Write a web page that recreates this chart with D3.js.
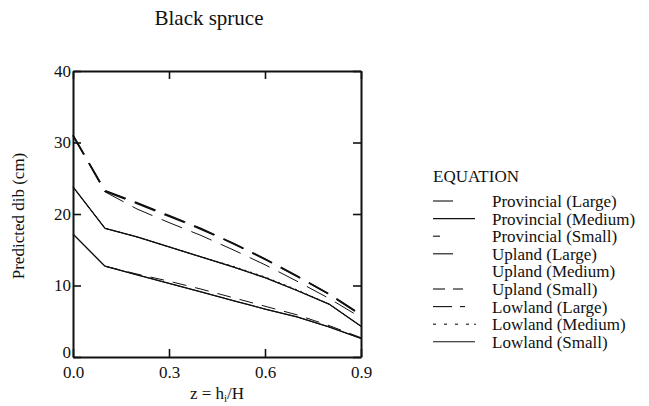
<!DOCTYPE html>
<html>
<head>
<meta charset="utf-8">
<script src="https://cdn.jsdelivr.net/npm/d3@7/dist/d3.min.js"></script>
<style>
  html, body { margin: 0; padding: 0; background: #fff; }
  svg { display: block; }
  text { font-family: "Liberation Serif", "Times New Roman", serif; fill: #111; }
</style>
</head>
<body>
<svg id="chart" width="649" height="406"></svg>
<script>
// Relative height z = h_i / H
const zLevels = [0, 0.1, 0.2, 0.3, 0.4, 0.5, 0.6, 0.7, 0.8, 0.9];

// Predicted diameter inside bark (cm) by equation and tree size
const provincialLarge  = [31.0, 23.2, 21.5, 19.7, 17.9, 15.9, 13.7, 11.3, 8.8, 5.9];
const provincialMedium = [23.8, 18.0, 16.8, 15.4, 14.0, 12.6, 11.1, 9.3, 7.4, 4.3];
const provincialSmall  = [17.2, 12.7, 11.5, 10.3, 9.1, 7.9, 6.7, 5.6, 4.2, 2.6];
const uplandLarge      = [31.0, 23.1, 20.7, 18.8, 17.0, 15.0, 12.9, 10.6, 8.2, 5.5];
const uplandMedium     = [23.8, 18.0, 16.8, 15.4, 14.0, 12.6, 11.1, 9.3, 7.4, 4.3];
const uplandSmall      = [17.2, 12.7, 11.5, 10.3, 9.1, 7.9, 6.7, 5.6, 4.2, 2.6];
const lowlandLarge     = [31.0, 23.3, 21.6, 19.8, 18.0, 15.9, 13.7, 11.3, 8.8, 5.9];
const lowlandMedium    = [23.8, 18.0, 16.8, 15.4, 14.0, 12.7, 11.2, 9.4, 7.4, 4.3];
const lowlandSmall     = [17.2, 12.7, 11.6, 10.6, 9.5, 8.3, 7.1, 5.9, 4.4, 2.7];

const seriesNames = [
  "Provincial (Large)", "Provincial (Medium)", "Provincial (Small)",
  "Upland (Large)", "Upland (Medium)", "Upland (Small)",
  "Lowland (Large)", "Lowland (Medium)", "Lowland (Small)"
];

const xTickValues = [0.0, 0.3, 0.6, 0.9];
const yTickValues = [0, 10, 20, 30, 40];

// Line appearance in the plot area, keyed by series
const plotStyle = {
  "Provincial (Large)":  { width: 1.9, dash: "22,10" },
  "Provincial (Medium)": { width: 1.3, dash: null },
  "Provincial (Small)":  { width: 1.3, dash: null },
  "Upland (Large)":      { width: 1.0, dash: "22,10" },
  "Upland (Medium)":     { width: 1.0, dash: null },
  "Upland (Small)":      { width: 1.0, dash: null },
  "Lowland (Large)":     { width: 1.3, dash: "22,10" },
  "Lowland (Medium)":    { width: 1.0, dash: "2,4" },
  "Lowland (Small)":     { width: 1.0, dash: "14,9" }
};

// Legend sample strokes: [x0, x1] segments relative to sample start
const legendSegments = {
  "Provincial (Large)":  [[0, 20]],
  "Provincial (Medium)": [[0, 42]],
  "Provincial (Small)":  [[0, 7]],
  "Upland (Large)":      [[0, 20]],
  "Upland (Medium)":     [],
  "Upland (Small)":      [[0, 12], [20, 30]],
  "Lowland (Large)":     [[0, 19], [27, 32]],
  "Lowland (Medium)":    [[0, 3], [11, 14], [22, 25], [33, 36], [41, 43]],
  "Lowland (Small)":     [[0, 42]]
};

const valuesByName = {
  "Provincial (Large)": provincialLarge,
  "Provincial (Medium)": provincialMedium,
  "Provincial (Small)": provincialSmall,
  "Upland (Large)": uplandLarge,
  "Upland (Medium)": uplandMedium,
  "Upland (Small)": uplandSmall,
  "Lowland (Large)": lowlandLarge,
  "Lowland (Medium)": lowlandMedium,
  "Lowland (Small)": lowlandSmall
};

const svg = d3.select("#chart");
const plot = { left: 73, right: 361, top: 71, bottom: 357 };

const x = d3.scaleLinear().domain([0, 0.9]).range([plot.left, plot.right]);
const y = d3.scaleLinear().domain([0, 40]).range([plot.bottom, plot.top]);

// Title
svg.append("text")
  .attr("x", 209).attr("y", 25)
  .attr("text-anchor", "middle")
  .style("font-size", "21px")
  .text("Black spruce");

// Curves
const line = d3.line().x(d => x(d[0])).y(d => y(d[1]));
const curves = svg.append("g").attr("fill", "none").attr("stroke", "#111");
seriesNames.forEach(name => {
  const pts = zLevels.map((z, i) => [z, valuesByName[name][i]]);
  const st = plotStyle[name];
  curves.append("path")
    .datum(pts)
    .attr("d", line)
    .attr("stroke-width", st.width)
    .attr("stroke-linejoin", "round")
    .attr("stroke-dasharray", st.dash);
});

// Axes with inward ticks
const axisFont = "17px";
const gLeft = svg.append("g").attr("transform", `translate(${plot.left},0)`)
  .call(d3.axisLeft(y).tickValues(yTickValues).tickFormat(d3.format("d"))
    .tickSizeInner(-8).tickSizeOuter(0).tickPadding(2));
const gBottom = svg.append("g").attr("transform", `translate(0,${plot.bottom})`)
  .call(d3.axisBottom(x).tickValues(xTickValues).tickFormat(d3.format(".1f"))
    .tickSizeInner(-8).tickSizeOuter(0).tickPadding(9));
const gRight = svg.append("g").attr("transform", `translate(${plot.right},0)`)
  .call(d3.axisRight(y).tickValues(yTickValues).tickFormat("")
    .tickSizeInner(-8).tickSizeOuter(0));
const gTop = svg.append("g").attr("transform", `translate(0,${plot.top})`)
  .call(d3.axisTop(x).tickValues(xTickValues).tickFormat("")
    .tickSizeInner(-8).tickSizeOuter(0));

[gLeft, gBottom, gRight, gTop].forEach(g => {
  g.select(".domain").attr("stroke", "#111").attr("stroke-width", 2);
  g.selectAll(".tick line").attr("stroke", "#111").attr("stroke-width", 1.6);
  g.selectAll(".tick text")
    .style("font-family", '"Liberation Serif", serif')
    .style("font-size", axisFont)
    .attr("fill", "#111");
});
// keep the zero label clear of the first x label
gLeft.selectAll(".tick").filter(d => d === 0).select("text").attr("dy", "0.05em");

// Axis titles
svg.append("text")
  .attr("transform", `translate(24,${(plot.top + plot.bottom) / 2 + 2}) rotate(-90)`)
  .attr("text-anchor", "middle")
  .style("font-size", "17px")
  .text("Predicted dib (cm)");

const xTitle = svg.append("text")
  .attr("x", (plot.left + plot.right) / 2).attr("y", 399)
  .attr("text-anchor", "middle")
  .style("font-size", "17px");
xTitle.append("tspan").text("z = h");
xTitle.append("tspan").attr("dy", 3).style("font-size", "11px").text("i");
xTitle.append("tspan").attr("dy", -3).text("/H");

// Legend
const legend = svg.append("g").attr("transform", "translate(433,0)");
legend.append("text")
  .attr("x", 0).attr("y", 182)
  .style("font-size", "17px")
  .text("EQUATION");

seriesNames.forEach((name, i) => {
  const baseY = 207 + i * 17.6;
  const row = legend.append("g");
  legendSegments[name].forEach(seg => {
    row.append("line")
      .attr("x1", seg[0]).attr("x2", seg[1])
      .attr("y1", baseY - 6).attr("y2", baseY - 6)
      .attr("stroke", "#111").attr("stroke-width", 1.1);
  });
  row.append("text")
    .attr("x", 59).attr("y", baseY)
    .style("font-size", "17px")
    .text(name);
});
</script>
</body>
</html>
